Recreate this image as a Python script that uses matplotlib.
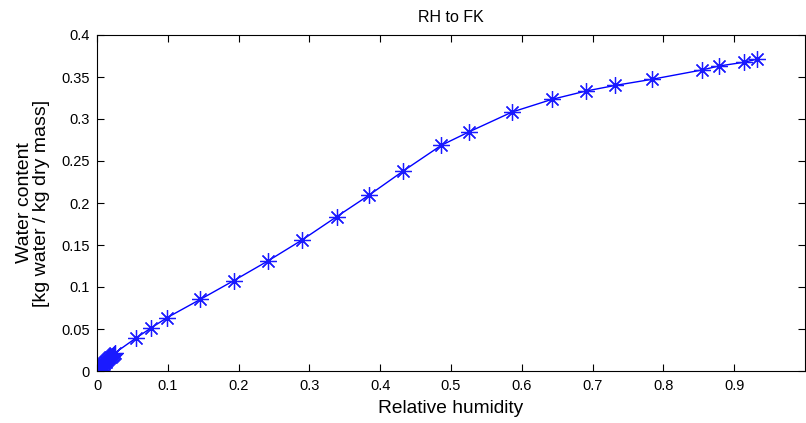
import matplotlib
matplotlib.use("Agg")
import matplotlib.pyplot as plt

plt.rcParams['font.family'] = ['Liberation Sans', 'DejaVu Sans']

# Sorption isotherm: relative humidity vs. moisture content
rh = [0.0003, 0.0008, 0.0013, 0.0019, 0.0025, 0.0032, 0.0039, 0.0047, 0.0055,
      0.0064, 0.0073, 0.0082, 0.0092, 0.0102, 0.0112, 0.0123, 0.0134, 0.0146,
      0.0158, 0.0170, 0.0183, 0.0196, 0.0210, 0.0224, 0.0240, 0.0258,
      0.0545, 0.0756, 0.0990, 0.1460, 0.1930, 0.2420, 0.2897, 0.3385, 0.3845,
      0.4324, 0.4863, 0.5260, 0.5863, 0.6427, 0.6906, 0.7320, 0.7835, 0.8540,
      0.8784, 0.9136, 0.9328]
water = [0.0003, 0.0008, 0.0013, 0.0019, 0.0025, 0.0031, 0.0038, 0.0045, 0.0053,
         0.0061, 0.0069, 0.0077, 0.0086, 0.0095, 0.0104, 0.0113, 0.0122, 0.0132,
         0.0142, 0.0152, 0.0162, 0.0172, 0.0183, 0.0194, 0.0205, 0.0218,
         0.0389, 0.0508, 0.0635, 0.0853, 0.1075, 0.1313, 0.1560, 0.1837, 0.2095,
         0.2380, 0.2687, 0.2849, 0.3083, 0.3234, 0.3333, 0.3400, 0.3472, 0.3583,
         0.3631, 0.3675, 0.3714]

xticks = [0, 0.1, 0.2, 0.3, 0.4, 0.5, 0.6, 0.7, 0.8, 0.9]
xticklabels = ['0', '0.1', '0.2', '0.3', '0.4', '0.5', '0.6', '0.7', '0.8', '0.9']
yticks = [0, 0.05, 0.1, 0.15, 0.2, 0.25, 0.3, 0.35, 0.4]
yticklabels = ['0', '0.05', '0.1', '0.15', '0.2', '0.25', '0.3', '0.35', '0.4']

fig = plt.figure(figsize=(8.06, 4.23), dpi=100)
ax = fig.add_axes([97 / 806, 52 / 423, 708 / 806, 336 / 423])

ax.plot(rh, water, color='#0000ff', linewidth=1.0,
        marker=(8, 2, 0), markersize=12, markeredgewidth=0.9,
        markeredgecolor='#1a1aff', markerfacecolor='#1a1aff')

ax.set_xlim(0, 1)
ax.set_ylim(0, 0.4)
ax.set_xticks(xticks)
ax.set_xticklabels(xticklabels)
ax.set_yticks(yticks)
ax.set_yticklabels(yticklabels)

ax.tick_params(direction='in', top=True, right=True, length=5, width=0.8,
               labelsize=10.5, colors='black')
ax.tick_params(axis='x', pad=6)
ax.tick_params(axis='y', pad=5)
for s in ax.spines.values():
    s.set_linewidth(0.8)
    s.set_color('black')

ax.set_title('RH to FK', fontsize=11.5, pad=9)
ax.set_xlabel('Relative humidity', fontsize=13.8, labelpad=5)
ax.set_ylabel('Water content\n[kg water / kg dry mass]', fontsize=14,
              labelpad=8, linespacing=1.0)

fig.savefig('out.png', dpi=100)
